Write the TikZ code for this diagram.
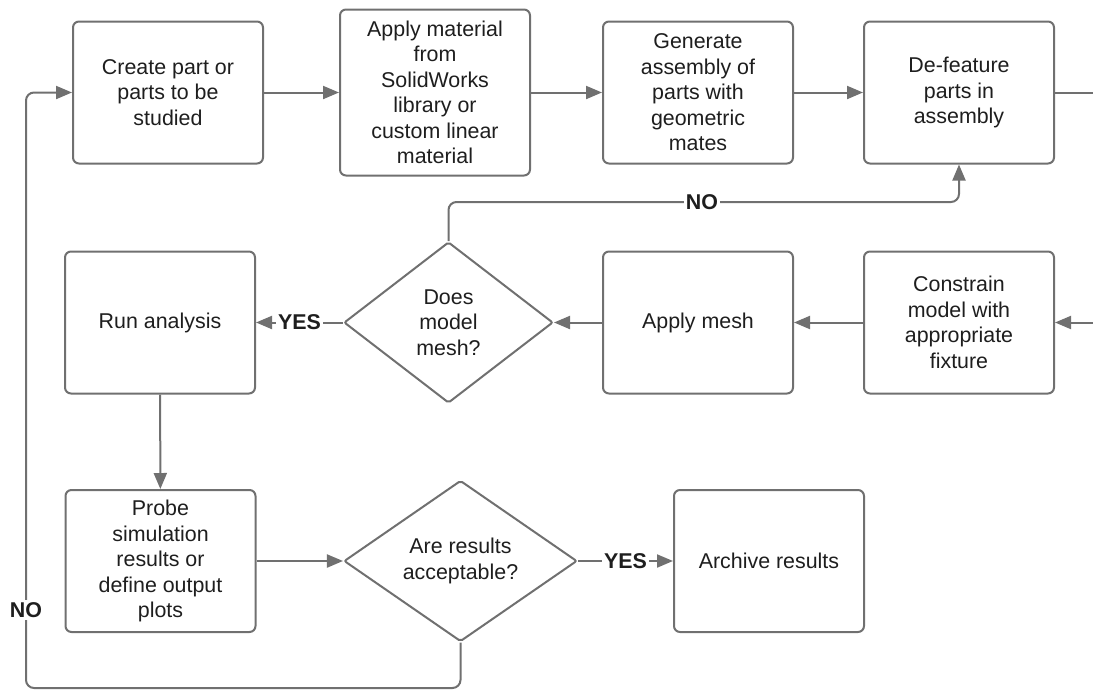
\documentclass[tikz,border=0pt]{standalone}
\usepackage{fontspec}
\setmainfont{Liberation Sans}
\usetikzlibrary{shapes.geometric,arrows.meta}
\definecolor{cline}{HTML}{707070}
\definecolor{ctext}{HTML}{1e1e1e}

\begin{document}
\begin{tikzpicture}[
  x=0.5pt,y=-0.5pt,
  box/.style={draw=cline,line width=1pt,rounded corners=3pt,fill=white,
    minimum width=95pt,minimum height=71pt,align=center,inner sep=2pt,
    text=ctext,font=\fontsize{10.7}{12.75}\selectfont},
  decision/.style={draw=cline,line width=1pt,diamond,rounded corners=1pt,
    fill=white,inner sep=0pt,align=center,text=ctext,
    font=\fontsize{10.7}{12.75}\selectfont},
  arrow/.style={draw=cline,line width=1pt,-{Triangle[length=8pt,width=6.5pt]}},
  link/.style={draw=cline,line width=1pt},
  lbl/.style={fill=white,inner sep=1pt,text=ctext,
    font=\fontsize{10.7}{12.75}\selectfont\bfseries}]
  \useasboundingbox (0,0) rectangle (1093,691);
  \node[box] (create) at (168,92.5) {Create part or\\parts to be\\studied};
  \node[box,minimum height=83pt] (material) at (435,92.5) {Apply material\\from\\SolidWorks\\library or\\custom linear\\material};
  \node[box] (assembly) at (698,92.5) {Generate\\assembly of\\parts with\\geometric\\mates};
  \node[box] (defeature) at (959,92.5) {De-feature\\parts in\\assembly};
  \node[box] (fixture) at (959,322.5) {Constrain\\model with\\appropriate\\fixture};
  \node[box] (mesh) at (698,322.5) {Apply mesh};
  \node[decision,minimum width=104.5pt,minimum height=80.5pt] (meshok) at (448.5,322.5) {Does\\model\\mesh?};
  \node[box] (run) at (160,322.5) {Run analysis};
  \node[box] (probe) at (160.5,561) {Probe\\simulation\\results or\\define output\\plots};
  \node[decision,minimum width=116.5pt,minimum height=80.5pt] (accept) at (460.5,561) {Are results\\acceptable?};
  \node[box] (archive) at (769,561) {Archive results};
  \coordinate (outtop) at (1093,92.5);
  \coordinate (inmid) at (1093,322.5);
  \coordinate (noup) at (959,202);
  \coordinate (loop) at (26,688);
  \draw[arrow] (create) -- (material);
  \draw[arrow] (material) -- (assembly);
  \draw[arrow] (assembly) -- (defeature);
  \draw[link] (defeature) -- (outtop);
  \draw[arrow] (inmid) -- (fixture);
  \draw[arrow] (fixture) -- (mesh);
  \draw[arrow] (mesh) -- (meshok);
  \draw[arrow] (meshok) -- node[lbl] (yesrun) {YES} (run);
  \draw[arrow,rounded corners=4pt] (meshok.north) |- (noup) -- (defeature.south);
  \draw[arrow] (run) -- (probe);
  \draw[arrow] (probe) -- (accept);
  \draw[arrow] (accept) -- node[lbl] (yesarch) {YES} (archive);
  \draw[arrow,rounded corners=4pt] (accept.south) |- (loop) |- (create.west);
  \node[lbl] (nomesh) at (702,202) {NO};
  \node[lbl] (noaccept) at (26,610) {NO};
\end{tikzpicture}
\end{document}
